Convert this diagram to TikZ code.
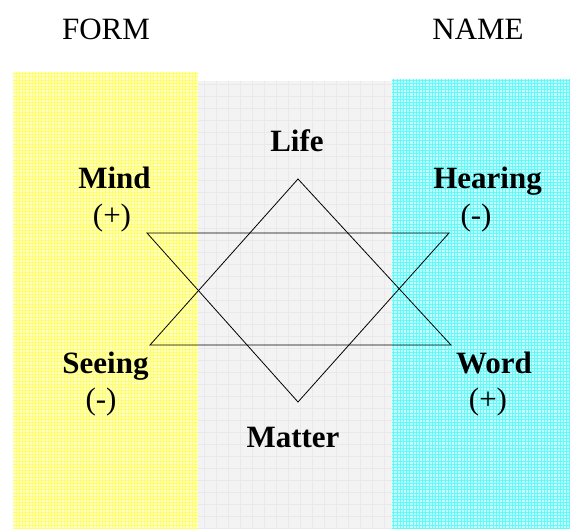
\documentclass[tikz,border=0pt]{standalone}
\usepackage{fontspec}
\setmainfont{Liberation Serif}
\definecolor{yfill}{RGB}{255,255,195}
\definecolor{ygrid}{RGB}{255,255,110}
\definecolor{cfill}{RGB}{195,255,255}
\definecolor{cgrid}{RGB}{100,250,250}
\definecolor{gfill}{RGB}{243,243,243}
\definecolor{ggrid}{RGB}{233,233,233}
\tikzset{
  lbl/.style={anchor=base, font=\fontsize{31}{36}\selectfont\bfseries, inner sep=0pt},
  sgn/.style={anchor=base, font=\fontsize{31}{36}\selectfont, inner sep=0pt},
  head/.style={anchor=base, font=\fontsize{31}{36}\selectfont, inner sep=0pt},
  star/.style={draw=black, line width=0.8pt, line join=miter},
}
\begin{document}
\begin{tikzpicture}[x=1pt,y=-1pt]
\useasboundingbox (0,0) rectangle (570,529);
\fill[white] (0,0) rectangle (570,529);
% panels
\fill[yfill] (13,72) rectangle (198,529);
\draw[ygrid, line width=0.6pt, step=3.2pt] (13,72) grid (198,529);
\fill[gfill] (198,81) rectangle (392,529);
\draw[ggrid, line width=0.5pt, step=12pt] (198,81) grid (392,529);
\fill[cfill] (392,79) rectangle (570,529);
\draw[cgrid, line width=0.6pt, step=3.2pt] (392,79) grid (570,529);
% headings
\node[head] (form) at (106,40) {FORM};
\node[head] (name) at (478,40) {NAME};
% star
\coordinate (up) at (298,179);
\coordinate (ul) at (150,345);
\coordinate (ur) at (451,345);
\coordinate (dl) at (147,233);
\coordinate (dr) at (449,233);
\coordinate (dn) at (298,402);
\draw[star] (up) -- (ul) -- (ur) -- cycle;
\draw[star] (dl) -- (dr) -- (dn) -- cycle;
% labels
\node[lbl] (life) at (297,152) {Life};
\node[lbl] (mind) at (114.5,189) {Mind};
\node[sgn] (mindsign) at (112,226) {(+)};
\node[lbl] (hearing) at (487.5,189) {Hearing};
\node[sgn] (hearingsign) at (476,226) {(-)};
\node[lbl] (seeing) at (105.5,373) {Seeing};
\node[sgn] (seeingsign) at (101,409) {(-)};
\node[lbl] (word) at (494,373) {Word};
\node[sgn] (wordsign) at (488,409) {(+)};
\node[lbl] (matter) at (293,447) {Matter};
\end{tikzpicture}
\end{document}
